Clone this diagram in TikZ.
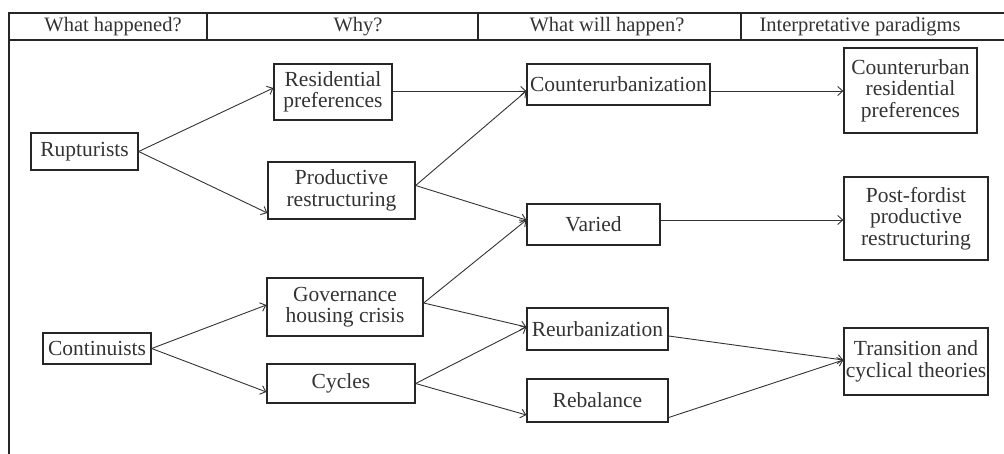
\documentclass[tikz,border=0pt]{standalone}
\usepackage{fontspec}
\setmainfont{Liberation Serif}
\usetikzlibrary{arrows.meta,calc}
\begin{document}
\begin{tikzpicture}[x=1pt,y=-1pt,
  box/.style={draw=black!85,line width=1.3pt,inner sep=0pt,align=center,
    font=\fontsize{21.5}{21.5}\selectfont,text=black!80},
  head/.style={inner sep=0pt,font=\fontsize{20.5}{21}\selectfont,text=black!80},
  arr/.style={draw=black!80,line width=0.9pt,-{Straight Barb[length=5pt,width=9pt]}},
  frame/.style={draw=black!85,line width=1.3pt}]
\useasboundingbox (0,0) rectangle (1004,453);
% frame and header
\draw[frame] (9,470) -- (9,13) -- (1010,13);
\draw[frame] (9,40) -- (1010,40);
\draw[frame] (207,13) -- (207,40);
\draw[frame] (478,13) -- (478,40);
\draw[frame] (741,13) -- (741,40);
\node[head] (h1) at (113,27) {What happened?};
\node[head] (h2) at (358,27) {Why?};
\node[head] (h3) at (607,27) {What will happen?};
\node[head] (h4) at (860,27) {Interpretative paradigms};
% nodes
\node[box,minimum width=107,minimum height=37] (rup) at (84.5,151.5) {Rupturists};
\node[box,minimum width=108,minimum height=31] (cont) at (97,348.5) {Continuists};
\node[box,minimum width=118,minimum height=56] (res) at (333,92) {Residential\\preferences};
\node[box,minimum width=147,minimum height=57] (prod) at (341.5,190.5) {Productive\\restructuring};
\node[box,minimum width=156,minimum height=58] (gov) at (345,307) {Governance\\housing crisis};
\node[box,minimum width=148,minimum height=39] (cyc) at (341,383.5) {Cycles};
\node[box,minimum width=183,minimum height=41] (cou) at (618.5,84.5) {Counterurbanization};
\node[box,minimum width=133,minimum height=41] (var) at (593.5,224.5) {Varied};
\node[box,minimum width=141,minimum height=42] (reu) at (597.5,329) {Reurbanization};
\node[box,minimum width=141,minimum height=43] (reb) at (597.5,400.5) {Rebalance};
\node[box,minimum width=133,minimum height=85] (cres) at (910.5,90.5) {Counterurban\\residential\\preferences};
\node[box,minimum width=144,minimum height=83] (post) at (916,218.5) {Post-fordist\\productive\\restructuring};
\node[box,minimum width=144,minimum height=67] (trans) at (916,361.5) {Transition and\\cyclical theories};
% connectors
\draw[arr] (rup.east) -- ($(res.west)+(0,-4)$);
\draw[arr] (rup.east) -- ($(prod.west)+(0,22.5)$);
\draw[arr] (cont.east) -- ($(gov.west)+(0,-2)$);
\draw[arr] (cont.east) -- ($(cyc.west)+(0,8.5)$);
\draw[arr] ($(res.east)+(0,-1)$) -- ($(cou.west)+(0,6.5)$);
\draw[arr] ($(prod.east)+(0,-5)$) -- ($(cou.west)+(0,6.5)$);
\draw[arr] ($(prod.east)+(0,-5)$) -- ($(var.west)+(0,-4.5)$);
\draw[arr] ($(gov.east)+(0,-4)$) -- ($(var.west)+(0,-4.5)$);
\draw[arr] ($(gov.east)+(0,-4)$) -- ($(reu.west)+(0,-2)$);
\draw[arr] (cyc.east) -- ($(reu.west)+(0,-2)$);
\draw[arr] (cyc.east) -- ($(reb.west)+(0,14.5)$);
\draw[arr] ($(cou.east)+(0,6.5)$) -- ($(cres.west)+(0,0.5)$);
\draw[arr] ($(var.east)+(0,-4.5)$) -- ($(post.west)+(0,1.5)$);
\draw[arr] ($(reu.east)+(0,7)$) -- ($(trans.west)+(0,-1.5)$);
\draw[arr] ($(reb.east)+(0,17)$) -- ($(trans.west)+(0,-1.5)$);
\end{tikzpicture}
\end{document}
